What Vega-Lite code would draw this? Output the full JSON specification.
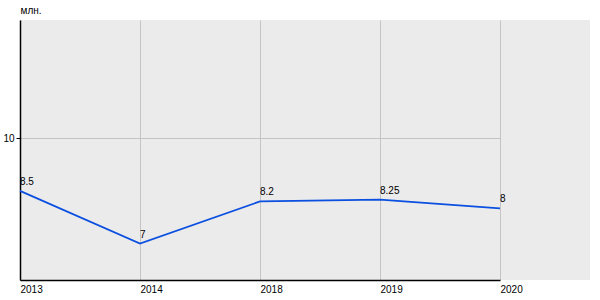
{
  "$schema": "https://vega.github.io/schema/vega-lite/v6.json",
  "width": 570,
  "height": 260,
  "autosize": {"type": "none"},
  "padding": {"left": 20, "top": 20, "right": 10, "bottom": 20},
  "background": "#ffffff",
  "config": {
    "view": {"stroke": null, "fill": "#ebebeb"},
    "font": "Liberation Sans"
  },
  "data": {
    "values": [
      {"year": "2013", "value": 8.5},
      {"year": "2014", "value": 7},
      {"year": "2018", "value": 8.2},
      {"year": "2019", "value": 8.25},
      {"year": "2020", "value": 8}
    ]
  },
  "encoding": {
    "x": {
      "field": "year",
      "type": "ordinal",
      "sort": null,
      "scale": {"type": "point", "padding": 0, "range": [0, 480]},
      "axis": {
        "title": null,
        "labelAngle": 0,
        "labelAlign": "left",
        "labelFontSize": 10,
        "labelColor": "#000000",
        "labelPadding": 4,
        "tickSize": 0,
        "grid": true,
        "gridColor": "#c4c4c4",
        "gridWidth": 1,
        "domainColor": "#000000",
        "domainWidth": 1.5
      }
    },
    "y": {
      "field": "value",
      "type": "quantitative",
      "scale": {"domain": [5.96, 13.37], "nice": false, "zero": false},
      "axis": {
        "values": [10],
        "title": "млн.",
        "titleAngle": 0,
        "titleAlign": "left",
        "titleBaseline": "alphabetic",
        "titleX": 0,
        "titleY": -7,
        "titleFontSize": 10,
        "titleFontWeight": "normal",
        "titleColor": "#000000",
        "labelFontSize": 10,
        "labelColor": "#000000",
        "labelPadding": 2,
        "tickSize": 4,
        "tickColor": "#000000",
        "grid": true,
        "gridColor": "#c4c4c4",
        "domainColor": "#000000",
        "domainWidth": 1.5
      }
    }
  },
  "layer": [
    {
      "mark": {"type": "line", "interpolate": "linear", "color": "#0a4fe0", "strokeWidth": 1.7}
    },
    {
      "mark": {"type": "text", "align": "left", "baseline": "bottom", "dy": -4, "fontSize": 10, "color": "#000000"},
      "encoding": {
        "text": {"field": "value", "type": "quantitative", "format": "~g"}
      }
    }
  ]
}
